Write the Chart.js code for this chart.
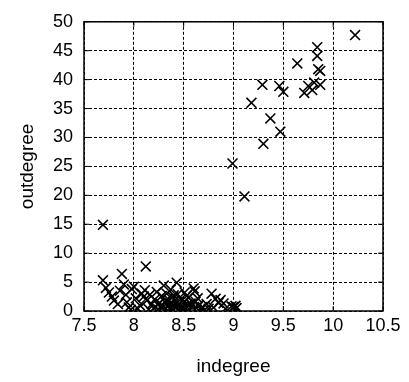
<!DOCTYPE html>
<html>
<head>
<meta charset="utf-8">
<script src="https://cdn.jsdelivr.net/npm/chart.js@4.4.0/dist/chart.umd.min.js"></script>
<style>
  html, body { margin: 0; padding: 0; background: #fff; }
  #wrap { width: 409px; height: 382px; }
</style>
</head>
<body>
<div id="wrap"><canvas id="chart" width="409" height="382"></canvas></div>
<script>
// Data
const indegree = [
  // upper group
  10.22, 9.84, 9.84, 9.85, 9.87, 9.64, 9.29, 9.46, 9.50, 9.71, 9.75, 9.79, 9.87, 9.81,
  9.18, 9.37, 9.47, 9.30, 8.99, 9.11, 7.69,
  // cluster near the bottom
  7.69, 7.72, 7.75, 7.78, 7.80, 7.84, 7.88, 7.90, 7.86, 7.92, 7.95, 7.97, 7.93, 7.98,
  8.00, 8.02, 8.04, 8.06, 8.08, 8.10, 8.12, 8.11, 8.13, 8.15, 8.16, 8.18, 8.20, 8.21,
  8.23, 8.25, 8.26, 8.27, 8.28, 8.30, 8.31, 8.32, 8.33, 8.34, 8.35, 8.36, 8.37, 8.38,
  8.39, 8.40, 8.41, 8.42, 8.43, 8.44, 8.45, 8.46, 8.47, 8.48, 8.50, 8.51, 8.52, 8.54,
  8.55, 8.56, 8.58, 8.60, 8.61, 8.62, 8.63, 8.65, 8.67, 8.69, 8.71, 8.73, 8.75, 8.78,
  8.80, 8.82, 8.85, 8.87, 8.90, 8.92, 8.98, 9.00, 9.03, 9.02,
  8.24, 8.29, 8.33, 8.36, 8.40, 8.44, 8.49, 8.53, 8.57, 8.64
];
const outdegree = [
  47.7, 45.6, 44.1, 41.8, 41.5, 42.8, 39.1, 38.9, 37.9, 37.7, 38.9, 38.2, 39.1, 39.5,
  36.0, 33.3, 31.0, 28.9, 25.5, 19.8, 14.9,
  5.3, 4.0, 3.2, 2.5, 1.8, 1.2, 6.4, 4.6, 3.5, 2.8, 0.6, 0.2, 1.5, 3.8,
  4.2, 2.2, 0.4, 1.0, 3.0, 2.5, 7.7, 3.6, 1.8, 0.3, 2.8, 1.2, 0.5, 2.0,
  3.3, 0.2, 1.4, 0.8, 2.6, 4.4, 1.6, 0.4, 3.0, 2.1, 0.9, 1.3, 3.7, 0.3,
  2.4, 1.0, 1.8, 0.5, 4.9, 2.9, 1.2, 0.2, 2.0, 0.7, 1.5, 3.2, 0.4, 1.1,
  2.3, 0.2, 0.8, 3.9, 3.4, 1.6, 0.5, 1.0, 0.3, 0.7, 0.2, 1.2, 0.4, 3.0,
  0.6, 2.1, 1.4, 1.9, 1.3, 0.4, 0.8, 0.7, 0.5, 0.9,
  1.1, 0.6, 1.7, 0.5, 2.7, 0.9, 0.3, 2.6, 1.3, 2.2
];
const xTicks = [7.5, 8, 8.5, 9, 9.5, 10, 10.5];
const yTicks = [0, 5, 10, 15, 20, 25, 30, 35, 40, 45, 50];

const points = indegree.map((x, i) => ({ x: x, y: outdegree[i] }));

// frame with inward ticks, like the original plot
const framePlugin = {
  id: "frame",
  afterDraw(chart) {
    const { ctx, chartArea: a, scales } = chart;
    ctx.save();
    ctx.strokeStyle = "#000";
    ctx.lineWidth = 1.5;
    ctx.strokeRect(a.left, a.top, a.right - a.left, a.bottom - a.top);
    ctx.lineWidth = 1;
    ctx.beginPath();
    xTicks.forEach(v => {
      const px = scales.x.getPixelForValue(v);
      ctx.moveTo(px, a.bottom); ctx.lineTo(px, a.bottom - 5);
      ctx.moveTo(px, a.top); ctx.lineTo(px, a.top + 5);
    });
    yTicks.forEach(v => {
      const py = scales.y.getPixelForValue(v);
      ctx.moveTo(a.left, py); ctx.lineTo(a.left + 5, py);
      ctx.moveTo(a.right, py); ctx.lineTo(a.right - 5, py);
    });
    ctx.stroke();
    ctx.restore();
  }
};

const font = "'Liberation Sans', Arial, Helvetica, sans-serif";

new Chart(document.getElementById("chart"), {
  type: "scatter",
  data: {
    datasets: [{
      data: points,
      pointStyle: "crossRot",
      pointRadius: 7,
      pointHoverRadius: 7,
      borderColor: "#000",
      backgroundColor: "#000",
      borderWidth: 1.6
    }]
  },
  options: {
    responsive: false,
    animation: false,
    layout: { padding: { left: 0, right: 26, top: 14, bottom: 0 } },
    plugins: { legend: { display: false }, tooltip: { enabled: false } },
    scales: {
      x: {
        type: "linear",
        min: 7.5,
        max: 10.5,
        afterBuildTicks: s => { s.ticks = xTicks.map(v => ({ value: v })); },
        afterFit: s => { s.height = 71; },
        ticks: {
          color: "#000", padding: 4, maxRotation: 0,
          font: { family: font, size: 18 },
          callback: v => String(v)
        },
        grid: { color: "#000", lineWidth: 1, drawTicks: false },
        border: { display: false, dash: [3, 2] },
        title: {
          display: true, text: "indegree", color: "#000",
          font: { family: font, size: 19 }, padding: { top: 0, bottom: 4 }
        }
      },
      y: {
        type: "linear",
        min: 0,
        max: 50,
        afterBuildTicks: s => { s.ticks = yTicks.map(v => ({ value: v })); },
        afterFit: s => { s.width = 84; },
        ticks: {
          color: "#000", padding: 11,
          font: { family: font, size: 18 },
          callback: v => String(v)
        },
        grid: { color: "#000", lineWidth: 1, drawTicks: false },
        border: { display: false, dash: [3, 2] },
        title: {
          display: true, text: "outdegree", color: "#000",
          font: { family: font, size: 19 }, padding: { top: 16, bottom: 0 }
        }
      }
    }
  },
  plugins: [framePlugin]
});
</script>
</body>
</html>
